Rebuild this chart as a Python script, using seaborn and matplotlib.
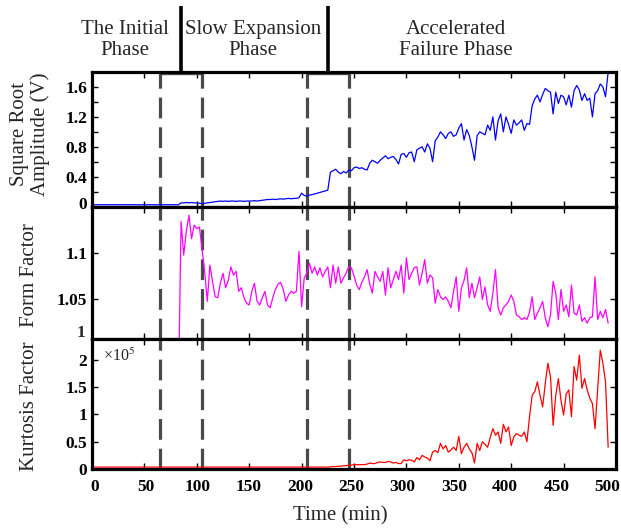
import numpy as np
import pandas as pd
import matplotlib
matplotlib.use("Agg")
import matplotlib.pyplot as plt
import matplotlib.transforms as mtransforms
import seaborn as sns

# ---------------- data ----------------
time_min = [
    0, 2.5, 5, 7.5, 10, 12.5, 15, 17.5, 20, 22.5,
    25, 27.5, 30, 32.5, 35, 37.5, 40, 42.5, 45, 47.5,
    50, 52.5, 55, 57.5, 60, 62.5, 65, 67.5, 70, 72.5,
    75, 77.5, 80, 82.5, 85, 87.5, 90, 92.5, 95, 97.5,
    100, 102.5, 105, 107.5, 110, 112.5, 115, 117.5, 120, 122.5,
    125, 127.5, 130, 132.5, 135, 137.5, 140, 142.5, 145, 147.5,
    150, 152.5, 155, 157.5, 160, 162.5, 165, 167.5, 170, 172.5,
    175, 177.5, 180, 182.5, 185, 187.5, 190, 192.5, 195, 197.5,
    200, 202.5, 205, 207.5, 210, 212.5, 215, 217.5, 220, 222.5,
    225, 227.5, 230, 232.5, 235, 237.5, 240, 242.5, 245, 247.5,
    250, 252.5, 255, 257.5, 260, 262.5, 265, 267.5, 270, 272.5,
    275, 277.5, 280, 282.5, 285, 287.5, 290, 292.5, 295, 297.5,
    300, 302.5, 305, 307.5, 310, 312.5, 315, 317.5, 320, 322.5,
    325, 327.5, 330, 332.5, 335, 337.5, 340, 342.5, 345, 347.5,
    350, 352.5, 355, 357.5, 360, 362.5, 365, 367.5, 370, 372.5,
    375, 377.5, 380, 382.5, 385, 387.5, 390, 392.5, 395, 397.5,
    400, 402.5, 405, 407.5, 410, 412.5, 415, 417.5, 420, 422.5,
    425, 427.5, 430, 432.5, 435, 437.5, 440, 442.5, 445, 447.5,
    450, 452.5, 455, 457.5, 460, 462.5, 465, 467.5, 470, 472.5,
    475, 477.5, 480, 482.5, 485, 487.5, 490, 492.5,
]

sqrt_amplitude = [
    0.025, 0.025, 0.025, 0.025, 0.025, 0.025, 0.025, 0.025, 0.025, 0.025,
    0.025, 0.025, 0.025, 0.025, 0.025, 0.025, 0.025, 0.025, 0.025, 0.025,
    0.025, 0.025, 0.025, 0.025, 0.025, 0.025, 0.025, 0.025, 0.025, 0.025,
    0.025, 0.025, 0.025, 0.025, 0.05, 0.05, 0.055, 0.05, 0.055, 0.05,
    0.05, 0.045, 0.04, 0.045, 0.05, 0.055, 0.06, 0.065, 0.07, 0.075,
    0.07, 0.075, 0.07, 0.075, 0.075, 0.07, 0.075, 0.075, 0.07, 0.075,
    0.075, 0.075, 0.08, 0.075, 0.08, 0.085, 0.09, 0.095, 0.095, 0.1,
    0.095, 0.1, 0.105, 0.1, 0.105, 0.11, 0.105, 0.11, 0.11, 0.12,
    0.18, 0.15, 0.14, 0.155, 0.16, 0.17, 0.18, 0.19, 0.2, 0.21,
    0.22, 0.46, 0.48, 0.5, 0.46, 0.44, 0.47, 0.45, 0.49, 0.48,
    0.52, 0.53, 0.51, 0.52, 0.5, 0.49, 0.58, 0.62, 0.6, 0.58,
    0.62, 0.65, 0.68, 0.64, 0.66, 0.67, 0.63, 0.57, 0.7, 0.71,
    0.66, 0.72, 0.73, 0.6, 0.76, 0.78, 0.8, 0.73, 0.84, 0.78,
    0.6, 0.88, 0.93, 1.0, 0.96, 0.91, 0.98, 1.0, 0.94, 0.96,
    1.05, 1.11, 0.89, 1.03, 0.95, 0.8, 0.62, 0.95, 1.0, 0.98,
    0.96, 1.09, 1.02, 1.2, 0.89, 1.15, 1.24, 1.0, 1.2, 1.1,
    0.98, 1.16, 1.09, 1.12, 1.16, 1.02, 1.11, 1.1, 1.35, 1.44,
    1.49, 1.4, 1.5, 1.58, 1.55, 1.53, 1.24, 1.53, 1.38, 1.49,
    1.47, 1.36, 1.49, 1.33, 1.55, 1.62, 1.56, 1.42, 1.51, 1.42,
    1.45, 1.2, 1.51, 1.55, 1.64, 1.6, 1.47, 1.8,
]

form_factor = [
    0.95, 0.95, 0.95, 0.95, 0.95, 0.95, 0.95, 0.95, 0.95, 0.95,
    0.95, 0.95, 0.95, 0.95, 0.95, 0.95, 0.95, 0.95, 0.95, 0.95,
    0.95, 0.95, 0.95, 0.95, 0.95, 0.95, 0.95, 0.95, 0.95, 0.95,
    0.95, 0.95, 0.95, 0.95, 1.135, 1.098, 1.124, 1.142, 1.116, 1.131,
    1.127, 1.129, 1.105, 1.08, 1.047, 1.087, 1.069, 1.052, 1.051, 1.067,
    1.078, 1.062, 1.07, 1.085, 1.076, 1.08, 1.058, 1.062, 1.051, 1.045,
    1.043, 1.058, 1.067, 1.047, 1.043, 1.051, 1.058, 1.043, 1.04, 1.051,
    1.06, 1.066, 1.068, 1.06, 1.047, 1.054, 1.058, 1.056, 1.058, 1.102,
    1.041, 1.073, 1.078, 1.089, 1.078, 1.085, 1.076, 1.084, 1.074, 1.08,
    1.085, 1.062, 1.087, 1.067, 1.085, 1.067, 1.073, 1.078, 1.085, 1.084,
    1.075, 1.065, 1.06, 1.068, 1.074, 1.082, 1.066, 1.056, 1.08, 1.074,
    1.069, 1.08, 1.054, 1.084, 1.062, 1.071, 1.08, 1.071, 1.087, 1.056,
    1.095, 1.071, 1.078, 1.084, 1.085, 1.065, 1.078, 1.093, 1.067, 1.076,
    1.073, 1.045, 1.06, 1.052, 1.049, 1.052, 1.047, 1.04, 1.058, 1.074,
    1.036, 1.062, 1.07, 1.084, 1.051, 1.067, 1.051, 1.062, 1.074, 1.049,
    1.063, 1.043, 1.036, 1.056, 1.082, 1.04, 1.032, 1.04, 1.043, 1.047,
    1.054, 1.047, 1.032, 1.03, 1.027, 1.029, 1.027, 1.035, 1.052, 1.027,
    1.034, 1.04, 1.047, 1.029, 1.019, 1.032, 1.069, 1.056, 1.027, 1.06,
    1.036, 1.043, 1.03, 1.065, 1.034, 1.032, 1.043, 1.025, 1.029, 1.023,
    1.029, 1.03, 1.074, 1.027, 1.036, 1.029, 1.038, 1.023,
]

kurtosis_e5 = [
    0.035, 0.035, 0.035, 0.035, 0.035, 0.035, 0.035, 0.035, 0.035, 0.035,
    0.035, 0.035, 0.035, 0.035, 0.035, 0.035, 0.035, 0.035, 0.035, 0.035,
    0.035, 0.035, 0.035, 0.035, 0.035, 0.035, 0.035, 0.035, 0.035, 0.035,
    0.035, 0.035, 0.035, 0.035, 0.035, 0.035, 0.035, 0.035, 0.035, 0.035,
    0.035, 0.035, 0.035, 0.035, 0.035, 0.035, 0.035, 0.035, 0.035, 0.035,
    0.035, 0.035, 0.035, 0.035, 0.035, 0.035, 0.035, 0.035, 0.035, 0.035,
    0.035, 0.035, 0.035, 0.035, 0.035, 0.035, 0.035, 0.035, 0.035, 0.035,
    0.035, 0.035, 0.035, 0.035, 0.035, 0.035, 0.035, 0.035, 0.035, 0.035,
    0.035, 0.035, 0.035, 0.035, 0.035, 0.035, 0.035, 0.035, 0.035, 0.035,
    0.035, 0.04, 0.045, 0.045, 0.05, 0.05, 0.06, 0.06, 0.07, 0.07,
    0.08, 0.08, 0.08, 0.08, 0.08, 0.09, 0.11, 0.1, 0.1, 0.12,
    0.13, 0.12, 0.12, 0.14, 0.13, 0.11, 0.12, 0.1, 0.1, 0.17,
    0.15, 0.17, 0.16, 0.13, 0.21, 0.17, 0.25, 0.22, 0.2, 0.15,
    0.31, 0.34, 0.3, 0.47, 0.37, 0.43, 0.31, 0.35, 0.4, 0.34,
    0.6, 0.28, 0.4, 0.47, 0.37, 0.3, 0.11, 0.47, 0.34, 0.5,
    0.45, 0.4, 0.58, 0.74, 0.62, 0.68, 0.47, 0.82, 0.68, 0.77,
    0.43, 0.59, 0.65, 0.62, 0.6, 0.68, 0.5, 0.96, 1.35, 1.42,
    1.6, 1.35, 1.14, 1.57, 1.94, 1.69, 0.8, 1.35, 1.66, 1.26,
    0.99, 1.38, 1.45, 0.96, 1.88, 1.63, 2.09, 1.48, 1.66, 1.45,
    1.3, 1.2, 0.74, 1.45, 2.18, 1.94, 1.6, 0.4,
]

phase_labels = ["The Initial\nPhase", "Slow Expansion\nPhase", "Accelerated\nFailure Phase"]
phase_lines = [65, 105, 205, 245]
phase_brackets = [(65, 105), (205, 245)]
x_ticks = [0, 50, 100, 150, 200, 250, 300, 350, 400, 450, 500]

assert len(time_min) == len(sqrt_amplitude) == len(form_factor) == len(kurtosis_e5)

df = pd.DataFrame({"time": time_min, "sra": sqrt_amplitude,
                   "ff": form_factor, "kf": kurtosis_e5})

# ---------------- style ----------------
sns.set_theme(style="white")
plt.rcParams["font.family"] = ["Liberation Serif", "DejaVu Serif"]
plt.rcParams["mathtext.fontset"] = "stix"

W, H = 621, 530
fig = plt.figure(figsize=(W / 100, H / 100), dpi=100)

def fx(px):
    return px / W

def fy(py):
    return 1 - py / H

left, right = 92, 616
panels = [(72, 207), (207, 339), (339, 469)]
axes = []
for top, bot in panels:
    ax = fig.add_axes([fx(left), fy(bot), fx(right) - fx(left), (bot - top) / H])
    axes.append(ax)

ax1, ax2, ax3 = axes
series = [("sra", "#0000ff", ax1), ("ff", "#ff00ff", ax2), ("kf", "#ff0000", ax3)]
dash_color = "#4a4a4a"

for col, color, ax in series:
    for xv in phase_lines:
        ax.axvline(xv, color=dash_color, lw=2.3, ls=(0, (6.5, 2.8)), zorder=1)
    sns.lineplot(data=df, x="time", y=col, ax=ax, color=color, lw=0.9,
                 estimator=None, sort=False, zorder=3)
    ax.set_xlim(0, 500)
    ax.set_xticks(x_ticks)
    ax.set_xlabel("")
    ax.set_ylabel("")
    for s in ax.spines.values():
        s.set_linewidth(2.3)
        s.set_color("black")
        s.set_zorder(5)
    ax.tick_params(axis="both", which="both", direction="in", length=4, width=1,
                   top=True, right=True, bottom=True, left=True, colors="black",
                   labelsize=12.5, pad=3.5)
    ax.grid(False)

# top panel
ax1.set_ylim(-0.005, 1.8)
ax1.set_yticks([0, 0.4, 0.8, 1.2, 1.6])
ax1.set_yticklabels(["0", "0.4", "0.8", "1.2", "1.6"])
ax1.set_yticks([0.2, 0.6, 1.0, 1.4], minor=True)
ax1.tick_params(axis="x", labelbottom=False)

# middle panel
ax2.set_ylim(1.0055, 1.151)
ax2.set_yticks([1.05, 1.1])
ax2.set_yticklabels(["1.05", "1.1"])
ax2.tick_params(axis="x", labelbottom=False)
blend2 = mtransforms.blended_transform_factory(ax2.transAxes, ax2.transData)
ax2.text(-0.013, 1.012, "1", transform=blend2, ha="right", va="center",
         fontsize=12.5, fontweight="bold")

# bottom panel
ax3.set_ylim(0, 2.385)
ax3.set_yticks([0, 0.5, 1, 1.5, 2])
ax3.set_yticklabels(["0", "0.5", "1", "1.5", "2"])
ax3.set_xticklabels([str(t) for t in x_ticks])
ax3.tick_params(axis="x", pad=7)
ax3.text(0.021, 0.87, r"×10$^{5}$", transform=ax3.transAxes, ha="left",
         va="center", fontsize=11.5)

for ax in axes:
    for lab in ax.get_xticklabels() + ax.get_yticklabels():
        lab.set_fontweight("bold")

# small leftward drift of x tick labels, as in the reference
for t, lab in zip(x_ticks, ax3.get_xticklabels()):
    dx = (3 - 0.023 * t) / 100.0
    lab.set_transform(lab.get_transform() + mtransforms.ScaledTranslation(dx, 0, fig.dpi_scale_trans))

# lift the "0" label of the top panel slightly
ylabs1 = ax1.get_yticklabels()
ylabs1[0].set_transform(ylabs1[0].get_transform() + mtransforms.ScaledTranslation(0, 0.035, fig.dpi_scale_trans))

# phase brackets and separators
blend1 = mtransforms.blended_transform_factory(ax1.transData, ax1.transAxes)
for a, b in phase_brackets:
    ax1.plot([a, b], [0.99, 0.99], transform=blend1, color=dash_color, lw=2.4,
             clip_on=False, solid_capstyle="butt", zorder=4)
    mid = (a + b) / 2
    ax1.plot([mid, mid], [1.0, 1.49], transform=blend1, color="black", lw=2.6,
             clip_on=False, solid_capstyle="butt", zorder=6)

fs = 15
fig.text(fx(125), fy(40), phase_labels[0], ha="center", va="center", fontsize=fs, linespacing=1.15)
fig.text(fx(253), fy(40), phase_labels[1], ha="center", va="center", fontsize=fs, linespacing=1.15)
fig.text(fx(456), fy(40), phase_labels[2], ha="center", va="center", fontsize=fs, linespacing=1.15)

# axis labels
fig.text(fx(30), fy(134), "Square Root\nAmplitude (V)", rotation=90, ha="center",
         va="center", fontsize=fs, linespacing=1.1)
fig.text(fx(30), fy(275), "Form Factor", rotation=90, ha="center", va="center", fontsize=fs)
fig.text(fx(30), fy(406), "Kurtosis Factor", rotation=90, ha="center", va="center", fontsize=fs)
fig.text(fx(340), fy(516), "Time (min)", ha="center", va="center", fontsize=fs)

fig.savefig("out.png", dpi=100)
